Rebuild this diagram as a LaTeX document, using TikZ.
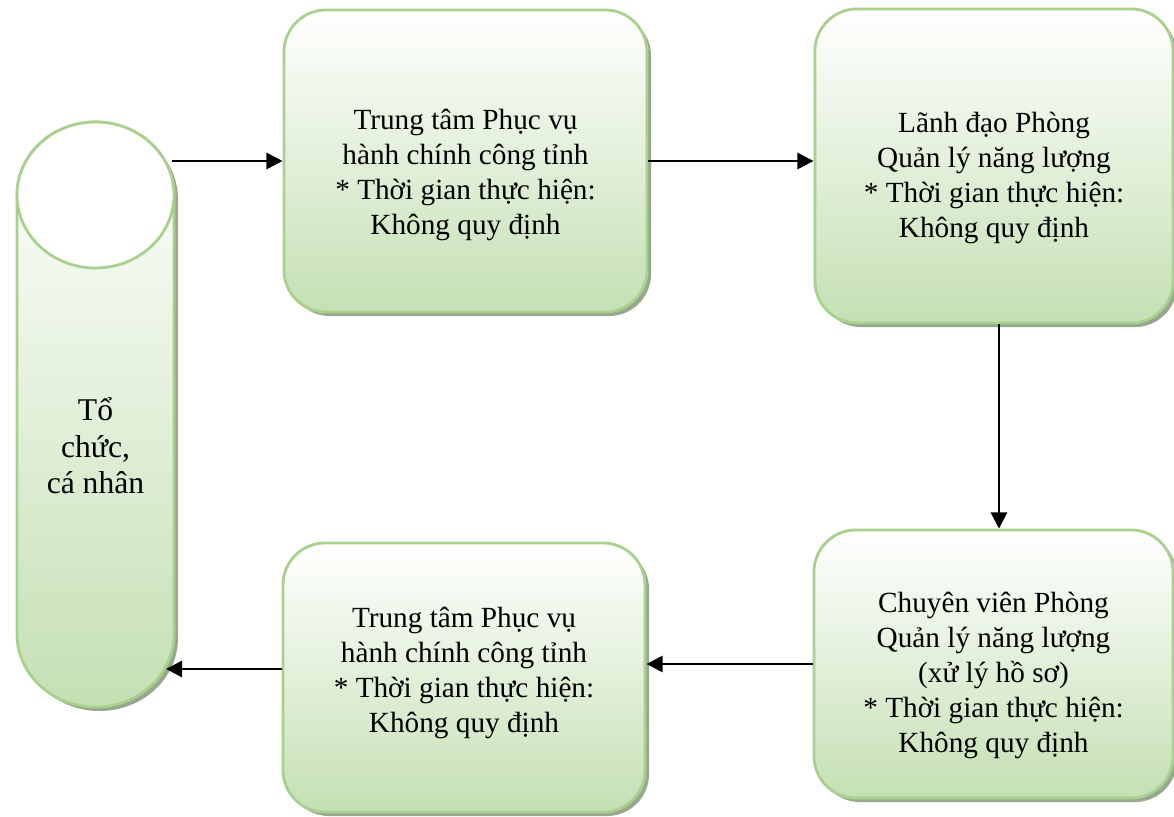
\documentclass[tikz,border=0pt]{standalone}
\usepackage{fontspec}
\setmainfont{Liberation Serif}
\usepackage{tikz}
\usetikzlibrary{arrows.meta,shadows}
\definecolor{boxgreen}{RGB}{197,224,180}
\definecolor{boxline}{RGB}{169,209,142}
\definecolor{shadowgray}{RGB}{152,168,142}
% invisible struts to move the text of a box down / up
\newcommand{\toplift}[1]{\rule{0pt}{#1}}
\newcommand{\botlift}[1]{\rule[-#1]{0pt}{#1}}

\tikzset{
  flowbox/.style={rectangle, rounded corners=1.05cm, draw=boxline, line width=2pt,
    top color=white, bottom color=boxgreen, align=center, inner sep=0pt,
    font=\fontsize{20.8}{24.9}\selectfont,
    drop shadow={shadow xshift=0.1cm, shadow yshift=-0.1cm, fill=shadowgray, opacity=1}},
  cylline/.style={draw=boxline, line width=2pt},
  flowarrow/.style={line width=1.8pt, -{Triangle[length=11.5pt,width=11.5pt]}}
}

\begin{document}
\begin{tikzpicture}[x=0.025cm,y=0.025cm]
\useasboundingbox (0,0) rectangle (1174,816);
% Cylinder (to chuc, ca nhan)
\draw[cylline, top color=white, bottom color=boxgreen,
  drop shadow={shadow xshift=0.1cm, shadow yshift=-0.1cm, fill=shadowgray, opacity=1}]
  (17,621) -- (17,182) arc[start angle=180, end angle=360, x radius=78.5, y radius=73]
  -- (174,621) arc[start angle=0, end angle=180, x radius=78.5, y radius=73] -- cycle;
\draw[cylline, fill=white] (95.5,621) ellipse[x radius=78.5, y radius=73];
\node[align=center, font=\fontsize{22.5}{26}\selectfont] (org) at (95.5,370) {Tổ\\chức,\\cá nhân};
\coordinate (org-top) at (172,621);
\coordinate (org-foot) at (166,147);
% Boxes
\node[flowbox, minimum width=9.075cm, minimum height=7.55cm] (boxA) at (465.5,655)
  {\toplift{34pt}Trung tâm Phục vụ\\hành chính công tỉnh\\* Thời gian thực hiện:\\Không quy định};
\node[flowbox, minimum width=8.95cm, minimum height=7.85cm] (boxB) at (994,650)
  {\toplift{31pt}Lãnh đạo Phòng\\Quản lý năng lượng\\* Thời gian thực hiện:\\Không quy định};
\node[flowbox, minimum width=8.975cm, minimum height=6.7cm] (boxC) at (993.5,152)
  {\toplift{31pt}Chuyên viên Phòng\\Quản lý năng lượng\\(xử lý hồ sơ)\\* Thời gian thực hiện:\\Không quy định};
\node[flowbox, minimum width=9.05cm, minimum height=6.725cm] (boxD) at (464,138.5)
  {Trung tâm Phục vụ\\hành chính công tỉnh\\* Thời gian thực hiện:\\Không quy định\botlift{10.3pt}};
% Arrows
\draw[flowarrow] (org-top |- boxA.west) -- (boxA.west);
\draw[flowarrow] (boxA.east) -- (boxA.east -| boxB.west);
\draw[flowarrow] ([xshift=0.125cm]boxB.south) -- ([xshift=0.125cm]boxB.south |- boxC.north);
\draw[flowarrow] (boxC.west) -- (boxC.west -| boxD.east);
\draw[flowarrow] (boxD.west |- org-foot) -- (org-foot);
\end{tikzpicture}
\end{document}
